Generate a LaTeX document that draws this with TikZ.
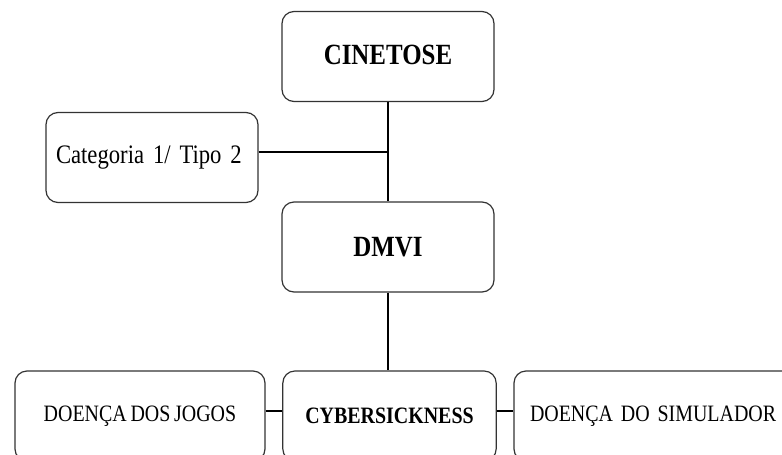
\documentclass[tikz,border=0pt]{standalone}
\usepackage{fontspec}
\setmainfont{Liberation Serif}[FakeStretch=0.85,WordSpace=0.75]
\usepackage{tikz}

\begin{document}
\begin{tikzpicture}[x=0.75pt,y=-0.75pt,
  box/.style={draw=black!80,line width=0.9pt,rounded corners=9pt,
    minimum height=67.5pt,inner sep=0pt},
  link/.style={draw=black,line width=0.9pt}]

\useasboundingbox (0,0) rectangle (782,454);
\clip (0,0) rectangle (782,454);

% top of the chart
\node[box,minimum width=159pt,font=\bfseries\fontsize{22}{26}\selectfont] (cinetose) at (388,56.5) {\raisebox{2pt}{CINETOSE}};
\node[box,text width=144pt,inner xsep=7.5pt,align=left,font=\fontsize{20}{24}\selectfont] (categoria) at (152,157.5) {\raisebox{-3pt}{Categoria 1/ Tipo 2}};
\node[box,minimum width=159pt,font=\bfseries\fontsize{22}{26}\selectfont] (dmvi) at (388,247) {DMVI};

% bottom row
\node[box,minimum width=187.5pt,font=\fontsize{17.6}{21}\selectfont] (jogos) at (140,416) {\raisebox{-2pt}{DOEN\c{C}A DOS JOGOS}};
\node[box,minimum width=160pt,font=\bfseries\fontsize{17.6}{21}\selectfont] (cyber) at (389.5,416) {\raisebox{1pt}{CYBERSICKNESS}};
\node[box,text width=195pt,inner xsep=12pt,align=left,font=\fontsize{17.6}{21}\selectfont] (simul) at (660,416) {\raisebox{3pt}{DOEN\c{C}A DO SIMULADOR}};

\coordinate (join) at (388,152);

\draw[link] (cinetose.south) -- (dmvi.north);
\draw[link] (categoria.east |- join) -- (join);
\draw[link] (dmvi.south) -- (dmvi.south |- cyber.north);
\draw[link] ([yshift=3.75pt]jogos.east) -- ([yshift=3.75pt]cyber.west);
\draw[link] ([yshift=3.75pt]cyber.east) -- ([yshift=3.75pt]simul.west);

\end{tikzpicture}
\end{document}
